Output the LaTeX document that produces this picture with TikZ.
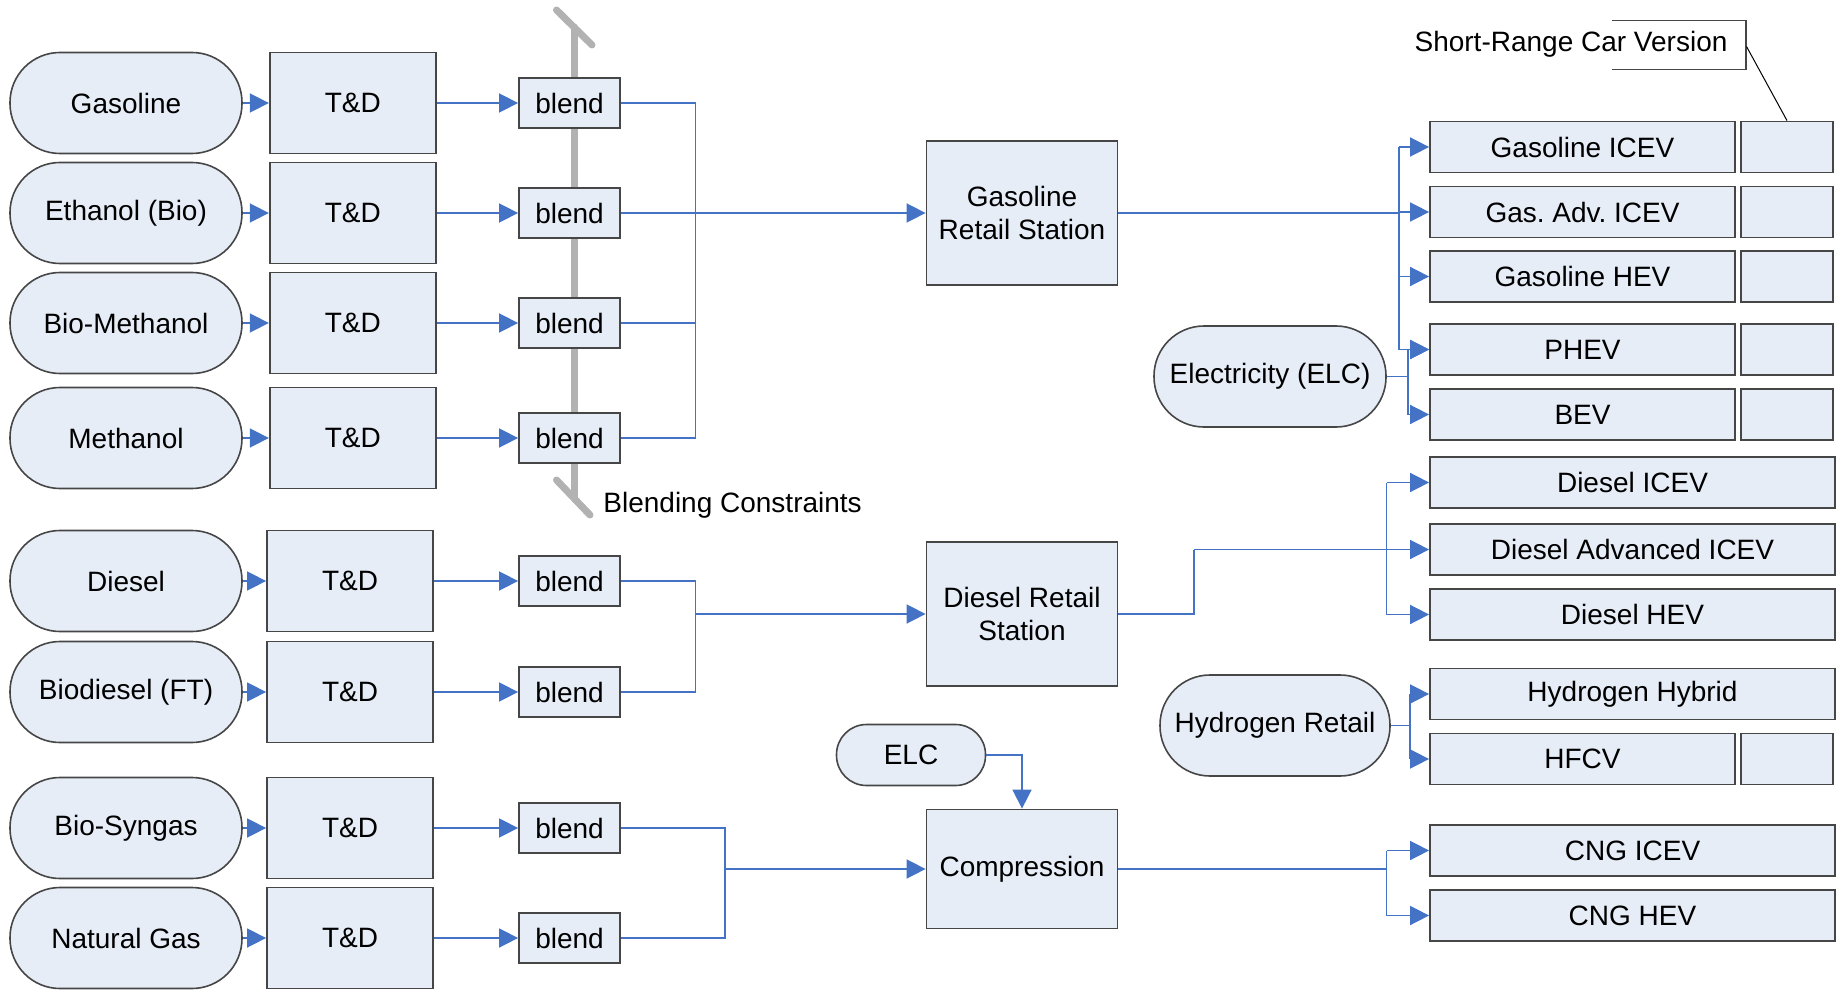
\documentclass[tikz,border=0pt]{standalone}
\usepackage{fontspec}
\setmainfont{Liberation Sans}
\usetikzlibrary{arrows.meta}
\definecolor{boxfill}{RGB}{230,237,247}
\definecolor{boxline}{RGB}{70,70,70}
\definecolor{flowblue}{RGB}{68,114,196}
\definecolor{limitgray}{RGB}{178,178,178}
\tikzset{
every node/.style={font=\fontsize{14}{16.5}\selectfont, inner sep=0pt, align=center},
fuel/.style={draw=boxline, fill=boxfill, line width=0.8pt, rounded corners=25pt, minimum width=116pt, minimum height=50.5pt},
tdbox/.style={draw=boxline, fill=boxfill, line width=0.9pt, minimum width=83pt, minimum height=50.5pt},
blendbox/.style={draw=boxline, fill=boxfill, line width=0.9pt, minimum width=50.5pt, minimum height=25pt},
station/.style={draw=boxline, fill=boxfill, line width=0.9pt, minimum width=95.5pt, minimum height=72pt},
car/.style={draw=boxline, fill=boxfill, line width=0.9pt, minimum width=152.5pt, minimum height=25.5pt},
carshort/.style={car, minimum width=46pt},
carwide/.style={car, minimum width=202.5pt},
flow/.style={draw=flowblue, line width=0.8pt},
arr/.style={flow, -{Triangle[length=9.5pt,width=9.5pt]}},
limit/.style={draw=limitgray, line width=3.5pt, line cap=round}
}
\begin{document}
\begin{tikzpicture}[x=0.5pt,y=-0.5pt]
\useasboundingbox (0,0) rectangle (1839,989);

\draw[limit] (556.5,10) -- (592,45);
\draw[limit] (574,27) -- (574,498);
\draw[limit] (556.5,480) -- (590,515);
\node[anchor=west] (bc) at (603,505) {Blending Constraints};

\node[fuel] (f1) at (126,103) {Gasoline};
\node[fuel] (f2) at (126,213) {Ethanol (Bio)};
\node[fuel] (f3) at (126,323) {Bio-Methanol};
\node[fuel] (f4) at (126,438) {Methanol};
\node[fuel] (f5) at (126,581) {Diesel};
\node[fuel] (f6) at (126,692) {Biodiesel (FT)};
\node[fuel] (f7) at (126,828) {Bio-Syngas};
\node[fuel] (f8) at (126,938) {Natural Gas};

\node[tdbox] (t1) at (352.75,103) {T\&D};
\node[tdbox] (t2) at (352.75,213) {T\&D};
\node[tdbox] (t3) at (352.75,323) {T\&D};
\node[tdbox] (t4) at (352.75,438) {T\&D};
\node[tdbox] (t5) at (350,581) {T\&D};
\node[tdbox] (t6) at (350,692) {T\&D};
\node[tdbox] (t7) at (350,828) {T\&D};
\node[tdbox] (t8) at (350,938) {T\&D};

\node[blendbox] (b1) at (569.5,103) {blend};
\node[blendbox] (b2) at (569.5,213) {blend};
\node[blendbox] (b3) at (569.5,323) {blend};
\node[blendbox] (b4) at (569.5,438) {blend};
\node[blendbox] (b5) at (569.5,581) {blend};
\node[blendbox] (b6) at (569.5,692) {blend};
\node[blendbox] (b7) at (569.5,828) {blend};
\node[blendbox] (b8) at (569.5,938) {blend};

\node[station] (gret) at (1022,213) {Gasoline\\Retail Station};
\node[station] (dret) at (1022,614) {Diesel Retail\\Station};
\node[station, minimum height=59.5pt] (comp) at (1022,869) {Compression};
\node[fuel, minimum width=74.5pt, minimum height=30.5pt, rounded corners=15pt] (elc) at (911,755) {ELC};
\node[fuel] (elec) at (1270,376.5) {Electricity (ELC)};
\node[fuel, minimum width=115pt] (hyd) at (1275,725.5) {Hydrogen Retail};

\node[car] (v1) at (1582.5,147) {Gasoline ICEV};
\node[car] (v2) at (1582.5,212) {Gas.\ Adv.\ ICEV};
\node[car] (v3) at (1582.5,276.5) {Gasoline HEV};
\node[car] (v4) at (1582.5,349.5) {PHEV};
\node[car] (v5) at (1582.5,414.5) {BEV};
\node[carwide] (v6) at (1632.5,482.5) {Diesel ICEV};
\node[carwide] (v7) at (1632.5,549.5) {Diesel Advanced ICEV};
\node[carwide] (v8) at (1632.5,614.5) {Diesel HEV};
\node[carwide] (v9) at (1632.5,694) {Hydrogen Hybrid};
\node[car] (v10) at (1582.5,759) {HFCV};
\node[carwide] (v11) at (1632.5,850.5) {CNG ICEV};
\node[carwide] (v12) at (1632.5,915.5) {CNG HEV};

\node[carshort] (s1) at (1787,147) {};
\node[carshort] (s2) at (1787,212) {};
\node[carshort] (s3) at (1787,276.5) {};
\node[carshort] (s4) at (1787,349.5) {};
\node[carshort] (s5) at (1787,414.5) {};
\node[carshort] (s6) at (1787,759) {};

\node (srt) at (1571,44) {Short-Range Car Version};
\draw[boxline, line width=0.6pt] (1612,20.5) -- (1746,20.5) -- (1746,69.5) -- (1612,69.5);
\coordinate (srk) at (1746.5,46.5);
\draw[line width=0.5pt] (srk) -- (s1.north);

\draw[arr] (f1) -- (t1);
\draw[arr] (f2) -- (t2);
\draw[arr] (f3) -- (t3);
\draw[arr] (f4) -- (t4);
\draw[arr] (f5) -- (t5);
\draw[arr] (f6) -- (t6);
\draw[arr] (f7) -- (t7);
\draw[arr] (f8) -- (t8);

\draw[arr] (t1) -- (b1);
\draw[arr] (t2) -- (b2);
\draw[arr] (t3) -- (b3);
\draw[arr] (t4) -- (b4);
\draw[arr] (t5) -- (b5);
\draw[arr] (t6) -- (b6);
\draw[arr] (t7) -- (b7);
\draw[arr] (t8) -- (b8);

\coordinate (gb) at (695.5,438);
\draw[flow] (b1) -| (gb) -- (b4);
\draw[flow] (b3) -- (b3 -| gb);
\draw[arr] (b2) -- (gret);

\coordinate (db) at (695.5,692);
\draw[flow] (b5) -| (db) -- (b6);
\draw[arr] (db |- dret) -- (dret);

\coordinate (cb) at (725,938);
\draw[flow] (b7) -| (cb) -- (b8);
\draw[arr] (cb |- comp) -- (comp);

\draw[arr] (elc) -| (comp);

\coordinate (gv) at (1399,349.5);
\draw[flow] (gret) -- (gret -| gv);
\draw[flow] (gv |- v1) -- (gv);
\draw[arr] (gv |- v1) -- (v1);
\draw[arr] (gv |- v2) -- (v2);
\draw[arr] (gv |- v3) -- (v3);
\draw[arr] (gv) -- (v4);

\coordinate (ev) at (1408,414.5);
\draw[flow] (elec) -- (elec -| ev);
\draw[flow] (ev |- v4) -- (ev);
\draw[arr] (ev |- v4) -- (v4);
\draw[arr] (ev) -- (v5);

\coordinate (dk) at (1194,549.5);
\draw[flow] (dret) -| (dk);
\draw[arr] (dk) -- (v7);
\coordinate (dv) at (1386.5,614.5);
\draw[flow] (dv |- v6) -- (dv);
\draw[arr] (dv |- v6) -- (v6);
\draw[arr] (dv) -- (v8);

\coordinate (hv) at (1410,759);
\draw[flow] (hyd) -- (hyd -| hv);
\draw[flow] (hv |- v9) -- (hv);
\draw[arr] (hv |- v9) -- (v9);
\draw[arr] (hv) -- (v10);

\coordinate (cv) at (1386.5,915.5);
\draw[flow] (comp) -- (comp -| cv);
\draw[flow] (cv |- v11) -- (cv);
\draw[arr] (cv |- v11) -- (v11);
\draw[arr] (cv) -- (v12);

\end{tikzpicture}
\end{document}
